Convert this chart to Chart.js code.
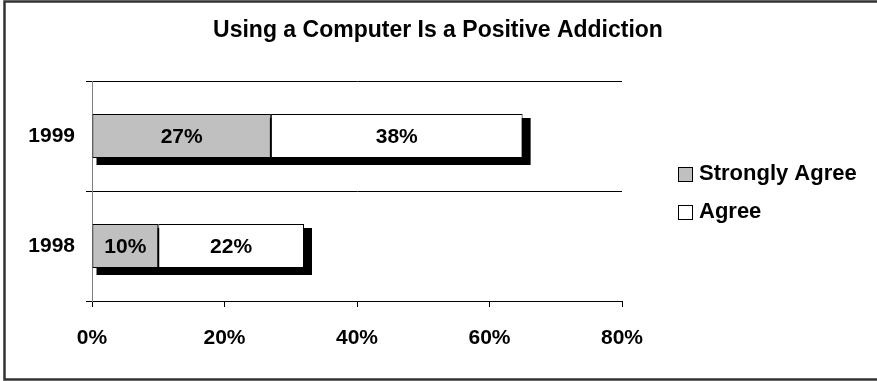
<!DOCTYPE html>
<html>
<head>
<meta charset="utf-8">
<script src="https://cdn.jsdelivr.net/npm/chart.js@4.4.0/dist/chart.umd.min.js"></script>
<style>
  html, body { margin: 0; padding: 0; background: #fff; overflow: hidden; }
  canvas { display: block; }
</style>
</head>
<body>
<canvas id="addictionChart" width="877" height="381"></canvas>
<script>
// Dati del sondaggio
const years = ['1999', '1998'];
const stronglyAgree = [27, 10];
const agree = [38, 22];
const xTicks = [0, 20, 40, 60, 80];
const chartTitle = 'Using a Computer Is a Positive Addiction';

const FONT = "'Liberation Sans', Arial, sans-serif";

// Cornice (solo sinistra, sopra, sotto), titolo e legenda
const framePlugin = {
    id: 'frame',
    beforeDraw(chart) {
        const c = chart.ctx;
        c.save();
        c.fillStyle = '#fff';
        c.fillRect(0, 0, chart.width, chart.height);
        c.strokeStyle = '#333';
        c.lineWidth = 2.5;
        c.beginPath();
        c.moveTo(chart.width + 5, 1.5);
        c.lineTo(4.5, 1.5);
        c.lineTo(4.5, 379.5);
        c.lineTo(chart.width + 5, 379.5);
        c.stroke();
        c.restore();
    },
    afterDraw(chart) {
        const c = chart.ctx;
        c.save();
        c.fillStyle = '#000';
        c.textBaseline = 'middle';
        c.textAlign = 'center';
        c.font = 'bold 23px ' + FONT;
        c.fillText(chartTitle, 438, 31);

        c.textAlign = 'left';
        c.font = 'bold 22px ' + FONT;
        const rows = [174, 212];
        chart.data.datasets.forEach((ds, i) => {
            const y = rows[i];
            c.fillStyle = ds.backgroundColor;
            c.fillRect(678, y - 7, 14, 14);
            c.strokeStyle = '#000';
            c.lineWidth = 1;
            c.strokeRect(678.5, y - 6.5, 14, 14);
            c.fillStyle = '#000';
            c.fillText(ds.label, 699, y);
        });
        c.restore();
    }
};

// Ombra nera dietro ogni barra e percentuali al centro dei segmenti
const barExtrasPlugin = {
    id: 'barExtras',
    beforeDatasetsDraw(chart) {
        const first = chart.getDatasetMeta(0).data;
        const last = chart.getDatasetMeta(chart.data.datasets.length - 1).data;
        const c = chart.ctx;
        c.save();
        c.fillStyle = '#000';
        first.forEach((bar, i) => {
            const left = bar.base;
            const right = last[i].x;
            const top = bar.y - bar.height / 2;
            const bottom = bar.y + bar.height / 2;
            c.fillRect(left + 4, top + 4, right - left + 4, bottom - top + 3);
        });
        c.restore();
    },
    afterDatasetsDraw(chart) {
        const c = chart.ctx;
        c.save();
        c.fillStyle = '#000';
        c.font = 'bold 21px ' + FONT;
        c.textAlign = 'center';
        c.textBaseline = 'middle';
        chart.data.datasets.forEach((ds, d) => {
            chart.getDatasetMeta(d).data.forEach((bar, i) => {
                c.fillText(ds.data[i] + '%', (bar.x + bar.base) / 2, bar.y + 1);
            });
        });
        c.restore();
    }
};

const ctx = document.getElementById('addictionChart').getContext('2d');
const addictionChart = new Chart(ctx, {
    type: 'bar',
    data: {
        labels: years,
        datasets: [{
            label: 'Strongly Agree',
            data: stronglyAgree,
            backgroundColor: '#c0c0c0',
            borderColor: '#000',
            borderWidth: 1,
            borderSkipped: false
        }, {
            label: 'Agree',
            data: agree,
            backgroundColor: '#ffffff',
            borderColor: '#000',
            borderWidth: 1,
            borderSkipped: false
        }]
    },
    options: {
        indexAxis: 'y',
        responsive: false,
        animation: false,
        devicePixelRatio: 1,
        categoryPercentage: 1,
        barPercentage: 0.4,
        layout: { padding: { top: 81, right: 255, bottom: 0, left: 0 } },
        plugins: {
            legend: { display: false },
            title: { display: false },
            tooltip: { enabled: false }
        },
        scales: {
            x: {
                stacked: true,
                min: xTicks[0],
                max: xTicks[xTicks.length - 1],
                afterBuildTicks(scale) {
                    scale.ticks = xTicks.map(v => ({ value: v }));
                },
                afterFit(scale) { scale.height = 80; },
                grid: {
                    drawOnChartArea: false,
                    drawTicks: true,
                    tickLength: 6,
                    color: '#000'
                },
                border: { display: true, color: '#000' },
                ticks: {
                    color: '#000',
                    padding: 19,
                    font: { family: FONT, size: 21, weight: 'bold' },
                    callback: v => v + '%'
                }
            },
            y: {
                stacked: true,
                afterFit(scale) { scale.width = 92; },
                grid: {
                    offset: true,
                    tickLength: 6,
                    color: '#000'
                },
                border: { display: true, color: '#808080' },
                ticks: {
                    color: '#000',
                    padding: 11,
                    font: { family: FONT, size: 21, weight: 'bold' }
                }
            }
        }
    },
    plugins: [framePlugin, barExtrasPlugin]
});
</script>
</body>
</html>
